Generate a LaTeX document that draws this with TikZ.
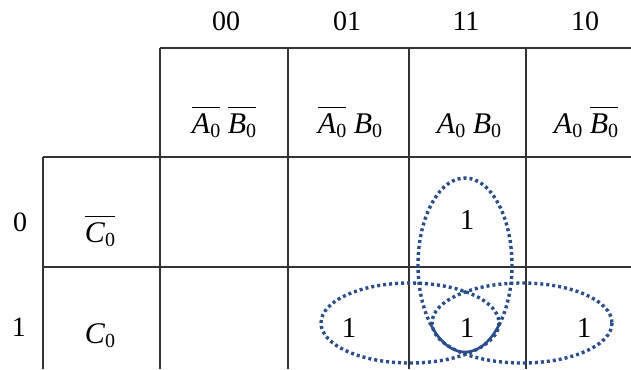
\documentclass[tikz,border=0pt]{standalone}
\usepackage{fontspec}
\setmainfont{Liberation Serif}
\newcommand\subz{\raisebox{-0.34ex}{\upshape\fontsize{20}{20}\selectfont 0}}
\newcommand\lbar[1]{$\overline{\hbox{\itshape\vphantom{Ä}#1\subz}}$}
\newcommand\lplain[1]{\textit{#1}\subz}
\begin{document}
\begin{tikzpicture}[x=1pt,y=-1pt,
  grid/.style={draw=black!80,line width=1.2pt},
  lbl/.style={font=\fontsize{28}{30}\selectfont,inner sep=0pt},
  term/.style={font=\fontsize{30}{32}\selectfont,inner sep=0pt,anchor=base},
  one/.style={font=\fontsize{29}{30}\selectfont,inner sep=0pt},
  grp/.style={draw=ringblue,line width=3.4pt,dash pattern=on 3pt off 3pt}]
\definecolor{ringblue}{HTML}{2A4E8A}
\useasboundingbox (0,0) rectangle (631,369);
% grid
\draw[grid] (160,48) -- (631,48);
\draw[grid] (43,157) -- (631,157);
\draw[grid] (43,267) -- (631,267);
\draw[grid] (43,157) -- (43,369);
\draw[grid] (160,48) -- (160,369);
\draw[grid] (288,48) -- (288,369);
\draw[grid] (409,48) -- (409,369);
\draw[grid] (526,48) -- (526,369);
% column labels
\node[lbl] (c00) at (226,21) {00};
\node[lbl] (c01) at (347,21) {01};
\node[lbl] (c11) at (466,21) {11};
\node[lbl] (c10) at (585,21) {10};
% header terms
\node[term] (h00) at (224,133) {\lbar{A}\ \lbar{B}};
\node[term] (h01) at (350,133) {\lbar{A}\ \lplain{B}};
\node[term] (h11) at (469,133) {\lplain{A}\ \lplain{B}};
\node[term] (h10) at (586,133) {\lplain{A}\ \lbar{B}};
% row labels
\node[lbl] (r0) at (20,222) {0};
\node[lbl] (r1) at (19,327) {1};
\node[term] (t0) at (100,242) {\lbar{C}};
\node[term] (t1) at (100,343) {\lplain{C}};
% ones
\node[one] (m3) at (467,220) {1};
\node[one] (m5) at (349,328) {1};
\node[one] (m7) at (467,328) {1};
\node[one] (m6) at (584,328) {1};
% groups
\draw[grp] (410,323) ellipse [x radius=89, y radius=40];
\draw[grp] (522,323) ellipse [x radius=90, y radius=40];
\draw[grp] (465,265) ++(136.4:47 and 87) arc [start angle=136.4, end angle=403.6, x radius=47, y radius=87];
\draw[draw=ringblue,line width=2.6pt] (465,265) ++(43.6:47 and 87) arc [start angle=43.6, end angle=136.4, x radius=47, y radius=87];
\end{tikzpicture}
\end{document}
